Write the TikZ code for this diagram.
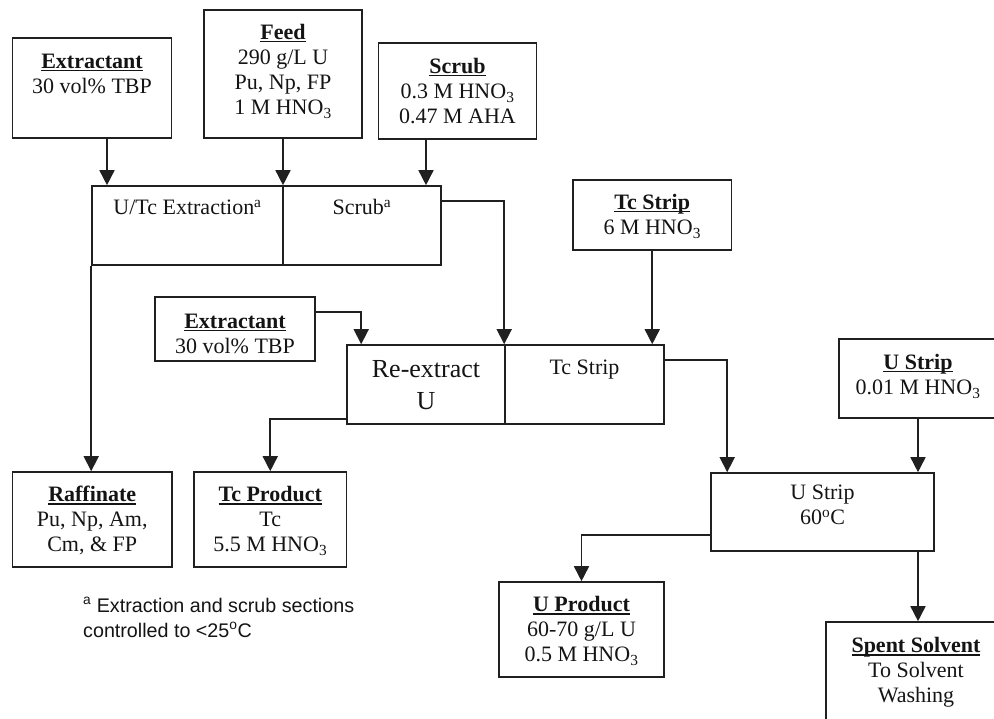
\documentclass[tikz,border=0pt]{standalone}
\usepackage{fontspec}
\setmainfont{Liberation Serif}
\newfontfamily\notefont{Liberation Sans}
\usetikzlibrary{arrows.meta}

\definecolor{ink}{HTML}{141414}
\definecolor{linec}{HTML}{202020}

% bold heading with a rule just under the baseline
\newcommand\uhead[1]{\setbox0\hbox{\bfseries #1}\rlap{\rule[-2.6pt]{\wd0}{1.4pt}}\box0}
\newcommand\hno{HNO\textsubscript{3}}

\begin{document}
\begin{tikzpicture}[x=1pt,y=-1pt,
  box/.style={draw=linec, line width=1.6pt, rectangle, inner sep=0pt},
  txt/.style={align=center, inner sep=0pt, anchor=north, text=ink,
              font=\fontsize{22}{25}\selectfont},
  bigtxt/.style={align=center, inner sep=0pt, anchor=north, text=ink,
              font=\fontsize{26}{32}\selectfont},
  link/.style={draw=linec, line width=1.6pt,
               -{Triangle[length=15pt,width=15pt]}},
]
\clip (0,0) rectangle (994,719);

% ---- feed streams into the extraction section
\node[box, minimum width=159, minimum height=100] (ext1) at (92,88) {};
\node[txt] (ext1t) at ([yshift=-14pt]ext1.north) {\strut\uhead{Extractant}\\30 vol\% TBP};

\node[box, minimum width=158, minimum height=128] (feed) at (283,74) {};
\node[txt] (feedt) at ([yshift=-13pt]feed.north) {\strut\uhead{Feed}\\290 g/L U\\Pu, Np, FP\\1 M \hno};

\node[box, minimum width=158, minimum height=96] (scrub) at (457.5,91) {};
\node[txt] (scrubt) at ([yshift=-14pt]scrub.north) {\strut\uhead{Scrub}\\0.3 M \hno\\0.47 M AHA};

% ---- extraction / scrub contactor
\node[box, minimum width=191, minimum height=79] (extrL) at (187.5,225.5) {};
\node[box, minimum width=158, minimum height=79] (extrR) at (362,225.5) {};
\node[txt] (extrLt) at ([yshift=-12pt]extrL.north) {\strut U/Tc Extraction\textsuperscript{a}};
\node[txt] (extrRt) at ([yshift=-12pt]extrR.north) {\strut Scrub\textsuperscript{a}};

% ---- Tc strip feed
\node[box, minimum width=158.5, minimum height=70] (tcs) at (652.25,215) {};
\node[txt] (tcst) at ([yshift=-13pt]tcs.north) {\strut\uhead{Tc Strip}\\6 M \hno};

% ---- second extractant feed
\node[box, minimum width=160, minimum height=64] (ext2) at (235,329) {};
\node[txt] (ext2t) at ([yshift=-15pt]ext2.north) {\strut\uhead{Extractant}\\30 vol\% TBP};

% ---- re-extract / Tc strip contactor
\node[box, minimum width=158, minimum height=79] (reexL) at (426,384.5) {};
\node[box, minimum width=159, minimum height=79] (reexR) at (584.5,384.5) {};
\node[bigtxt] (reexLt) at ([yshift=-11pt]reexL.north) {\strut Re-extract\\U};
\node[txt] (reexRt) at ([yshift=-13pt]reexR.north) {\strut Tc Strip};

% ---- U strip feed
\node[box, minimum width=158, minimum height=79] (ustrf) at (918,378.5) {};
\node[txt] (ustrft) at ([yshift=-14pt]ustrf.north) {\strut\uhead{U Strip}\\0.01 M \hno};

% ---- U strip contactor
\node[box, minimum width=223, minimum height=78] (ustrip) at (822.5,512) {};
\node[txt] (ustript) at ([yshift=-10pt]ustrip.north) {\strut U Strip\\60\textsuperscript{o}C};

% ---- products
\node[box, minimum width=159.5, minimum height=95] (raff) at (92.25,519.5) {};
\node[txt] (rafft) at ([yshift=-13pt]raff.north) {\strut\uhead{Raffinate}\\Pu, Np, Am,\\Cm, \& FP};

\node[box, minimum width=152.5, minimum height=95] (tcprod) at (270.25,519.5) {};
\node[txt] (tcprodt) at ([yshift=-13pt]tcprod.north) {\strut\uhead{Tc Product}\\Tc\\5.5 M \hno};

\node[box, minimum width=165, minimum height=95] (uprod) at (581.5,629.5) {};
\node[txt] (uprodt) at ([yshift=-13pt]uprod.north) {\strut\uhead{U Product}\\60-70 g/L U\\0.5 M \hno};

\node[box, minimum width=180, minimum height=138] (spent) at (916,691) {};
\node[txt] (spentt) at ([yshift=-14pt]spent.north) {\strut\uhead{Spent Solvent}\\To Solvent\\Washing};

% ---- footnote
\node[anchor=north west, align=left, inner sep=0pt, text=ink,
      font=\notefont\fontsize{19.7}{25}\selectfont] (note) at (83,594.5)
  {\strut\textsuperscript{a} Extraction and scrub sections\\controlled to <25\textsuperscript{o}C};

% ---- connectors
\coordinate (e1out) at ([xshift=15pt]ext1.south);
\draw[link] (e1out) -- (e1out |- extrL.north);
\draw[link] (feed.south) -- (feed.south |- extrL.north);
\coordinate (s1out) at ([xshift=-31.5pt]scrub.south);
\draw[link] (s1out) -- (s1out |- extrR.north);

\coordinate (xrout) at ([yshift=-16pt]extrR.north east);
\draw[link] (xrout) -| (reexR.north west);
\draw[link] (extrL.south west) -- (extrL.south west |- raff.north);

\coordinate (e2out) at ([yshift=-16pt]ext2.north east);
\coordinate (r1in) at ([xshift=15pt]reexL.north west);
\draw[link] (e2out) -| (r1in);
\draw[link] (tcs.south) -- (tcs.south |- reexR.north);

\coordinate (rrout) at ([yshift=-16pt]reexR.north east);
\coordinate (usin) at ([xshift=17pt]ustrip.north west);
\draw[link] (rrout) -| (usin);
\coordinate (rlout) at ([yshift=6pt]reexL.south west);
\draw[link] (rlout) -| (tcprod.north);

\draw[link] (ustrf.south) -- (ustrf.south |- ustrip.north);
\coordinate (ulout) at ([yshift=17pt]ustrip.south west);
\draw[link] (ulout) -| (uprod.north);
\coordinate (ubout) at (ustrip.south -| ustrf.south);
\draw[link] (ubout) -- (ubout |- spent.north);
\end{tikzpicture}
\end{document}
